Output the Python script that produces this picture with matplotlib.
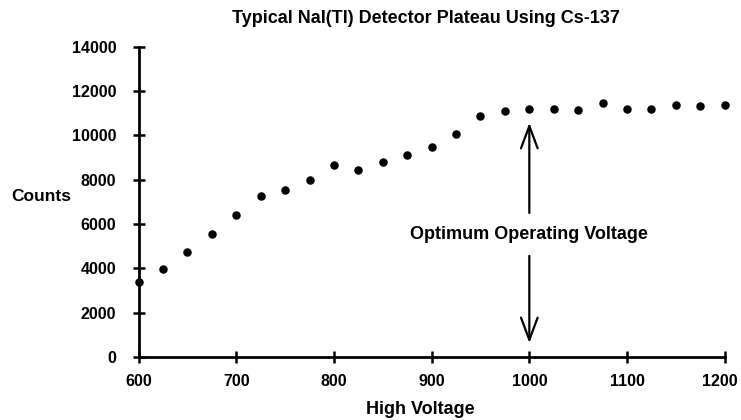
import matplotlib
matplotlib.use("Agg")
import matplotlib.pyplot as plt
from matplotlib.transforms import ScaledTranslation

voltage = [600, 625, 650, 675, 700, 725, 750, 775, 800, 825, 850, 875, 900,
           925, 950, 975, 1000, 1025, 1050, 1075, 1100, 1125, 1150, 1175, 1200]
counts = [3400, 3960, 4750, 5550, 6400, 7250, 7550, 7990, 8670, 8430, 8790, 9110, 9480,
          10080, 10880, 11080, 11200, 11200, 11140, 11440, 11200, 11200, 11380, 11320, 11380]
x_ticks = [600, 700, 800, 900, 1000, 1100, 1200]
y_ticks = [0, 2000, 4000, 6000, 8000, 10000, 12000, 14000]
title = "Typical NaI(Tl) Detector Plateau Using Cs-137"
annotation = "Optimum Operating Voltage"
optimum_voltage = 1000

FONT = ['Liberation Sans', 'DejaVu Sans']
plt.rcParams['font.family'] = FONT
plt.rcParams['font.weight'] = 'bold'

fig = plt.figure(figsize=(7.41, 4.20), dpi=100)
ax = fig.add_axes([0.187, 0.150, 0.791, 0.739])

ax.scatter(voltage, counts, s=26, color='black', zorder=3, clip_on=False)

ax.set_xlim(600, 1200)
ax.set_ylim(0, 14000)
ax.set_xticks(x_ticks)
ax.set_yticks(y_ticks)
ax.tick_params(direction='inout', length=8, width=1.8, labelsize=11.5)
ax.tick_params(axis='y', pad=12)
ax.tick_params(axis='x', pad=8)
for lbl in ax.get_xticklabels() + ax.get_yticklabels():
    lbl.set_fontweight('bold')
# keep the last x tick label inside the figure, as in the reference
last = ax.get_xticklabels()[-1]
last.set_transform(last.get_transform() + ScaledTranslation(-5 / 100, 0, fig.dpi_scale_trans))

for s in ['top', 'right']:
    ax.spines[s].set_visible(False)
for s in ['left', 'bottom']:
    ax.spines[s].set_linewidth(2)

fig.text(0.575, 0.957, title, ha='center', va='center', fontsize=13, fontweight='bold')
fig.text(0.567, 0.024, "High Voltage", ha='center', va='center', fontsize=13, fontweight='bold')
fig.text(0.055, 0.533, "Counts", ha='center', va='center', fontsize=12.5, fontweight='bold')

# Annotation arrows
arrow_style = dict(arrowstyle='->, head_length=0.8, head_width=0.3', lw=1.6,
                   color='black', mutation_scale=20, shrinkA=0, shrinkB=0)
ax.annotate("", xy=(optimum_voltage, 10560), xytext=(optimum_voltage, 6500),
            arrowprops=arrow_style)
ax.annotate("", xy=(optimum_voltage, 630), xytext=(optimum_voltage, 4560),
            arrowprops=arrow_style)
ax.text(optimum_voltage, 5520, annotation, ha='center', va='center',
        fontsize=13, fontweight='bold')

fig.savefig("out.png", dpi=100)
